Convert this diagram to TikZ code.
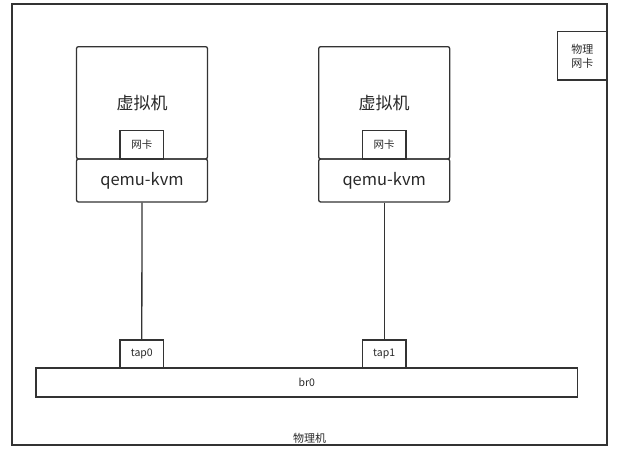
\documentclass[tikz,border=0pt]{standalone}
\usepackage{fontspec}
\setmainfont{Noto Sans CJK SC}
\definecolor{edge}{RGB}{51,51,51}
\definecolor{ink}{RGB}{40,40,40}
\tikzset{
  box/.style={draw=edge,line width=1.3pt,inner sep=0pt,text=ink},
  vmbox/.style={box,rounded corners=2pt,minimum width=131pt},
  small/.style={box,minimum width=43.6pt,minimum height=28.3pt,font=\fontsize{10.5}{12}\selectfont},
}
\begin{document}
\begin{tikzpicture}[x=1pt,y=-1pt]
    \useasboundingbox (0,0) rectangle (618,461);
    % physical host
    \node[box,minimum width=595pt,minimum height=441pt] (host) at (309.5,224.5) {};
    \node[text=ink,font=\fontsize{11}{12}\selectfont] (hostlabel) at (309.5,438) {物理机};
    \node[box,minimum width=49.3pt,minimum height=48.3pt,align=center,font=\fontsize{11}{14}\selectfont] (pnic) at (582.3,55.9) {物理\\网卡};
    % virtual machines
    \node[vmbox,minimum height=112.3pt,font=\fontsize{17}{20}\selectfont] (vm0) at (142,102.8) {虚拟机};
    \node[vmbox,minimum height=43pt,font=\fontsize{16.5}{20}\selectfont] (qemu0) at (142,180.5) {qemu-kvm};
    \node[small] (nic0) at (141.8,144.9) {网卡};
    \node[vmbox,minimum height=112.3pt,font=\fontsize{17}{20}\selectfont] (vm1) at (384.2,102.8) {虚拟机};
    \node[vmbox,minimum height=43pt,font=\fontsize{16.5}{20}\selectfont] (qemu1) at (384.2,180.5) {qemu-kvm};
    \node[small] (nic1) at (384.2,144.9) {网卡};
    % bridge
    \node[box,minimum width=541.5pt,minimum height=29pt,font=\fontsize{10.5}{12}\selectfont] (br) at (306.8,382.5) {br0};
    \node[small] (tap0) at (141.8,354) {tap0};
    \node[small] (tap1) at (384.2,354) {tap1};
    \draw[edge,line width=1.3pt] (qemu0.south) -- (tap0.north);
    \draw[edge,line width=1.3pt] (qemu1.south) -- (tap1.north);
\end{tikzpicture}
\end{document}
